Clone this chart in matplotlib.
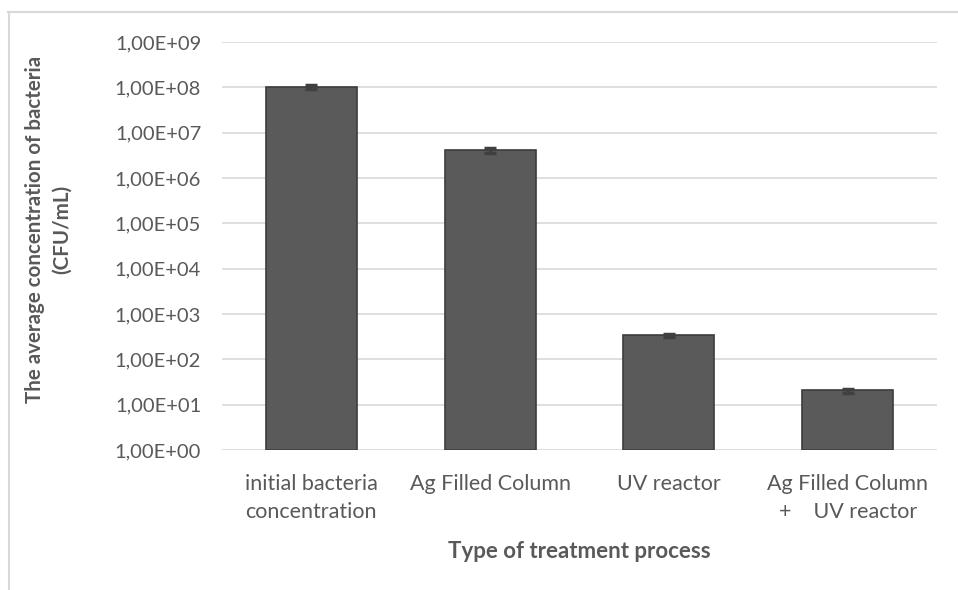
import math

import matplotlib.pyplot as plt
from matplotlib.lines import Line2D
from matplotlib.ticker import FixedLocator, FuncFormatter

categories = ["initial bacteria\nconcentration", "Ag Filled Column", "UV reactor",
              "Ag Filled Column\n+    UV reactor"]
values = [1.0e8, 4.1e6, 340, 20]
errors = [0.1e8, 0.45e6, 30, 2]

plt.rcParams["font.family"] = ["Lato", "DejaVu Sans"]
text_color = "#595959"

fig = plt.figure(figsize=(9.58, 5.9), dpi=100)
ax = fig.add_axes([222 / 958, 1 - 450 / 590, 715 / 958, 408 / 590])

x = range(len(categories))
ax.bar(x, values, width=0.51, bottom=1, color="#5a5a5a", edgecolor="#3c3c3c",
       linewidth=1.2, zorder=3)
ax.errorbar(x, values, yerr=errors, fmt="none", ecolor="#404040", elinewidth=2.5,
            capsize=4.5, capthick=2.5, zorder=4)

ax.set_yscale("log")
ax.set_ylim(1, 1e9)
ax.set_xlim(-0.5, len(categories) - 0.5)
ax.yaxis.set_major_locator(FixedLocator([10 ** i for i in range(10)]))
ax.yaxis.set_minor_locator(FixedLocator([]))
ax.yaxis.set_major_formatter(FuncFormatter(lambda v, p: "1,00E+%02d" % round(math.log10(v))))
ax.grid(axis="y", color="#d9d9d9", linewidth=1.2, zorder=0)
for s in ax.spines.values():
    s.set_visible(False)
ax.tick_params(axis="both", length=0, colors=text_color)
ax.tick_params(axis="y", labelsize=14.5, pad=15)
ax.tick_params(axis="x", labelsize=15.5, pad=17)

ax.set_xticks(list(x))
ax.set_xticklabels(categories, linespacing=1.5)

ax.set_ylabel("The average concentration of bacteria\n(CFU/mL)", fontsize=14.8,
              fontweight="bold", color=text_color, linespacing=1.45)
ax.yaxis.set_label_coords(-0.21, 0.54)
ax.set_xlabel("Type of treatment process", fontsize=16, fontweight="bold",
              color=text_color, labelpad=14)

fig.add_artist(Line2D([8 / 958, 1], [1 - 12 / 590] * 2, color="#d9d9d9", linewidth=1.5))
fig.add_artist(Line2D([9 / 958] * 2, [0, 1 - 12 / 590], color="#d9d9d9", linewidth=1.5))

fig.savefig("out.png", dpi=100)
